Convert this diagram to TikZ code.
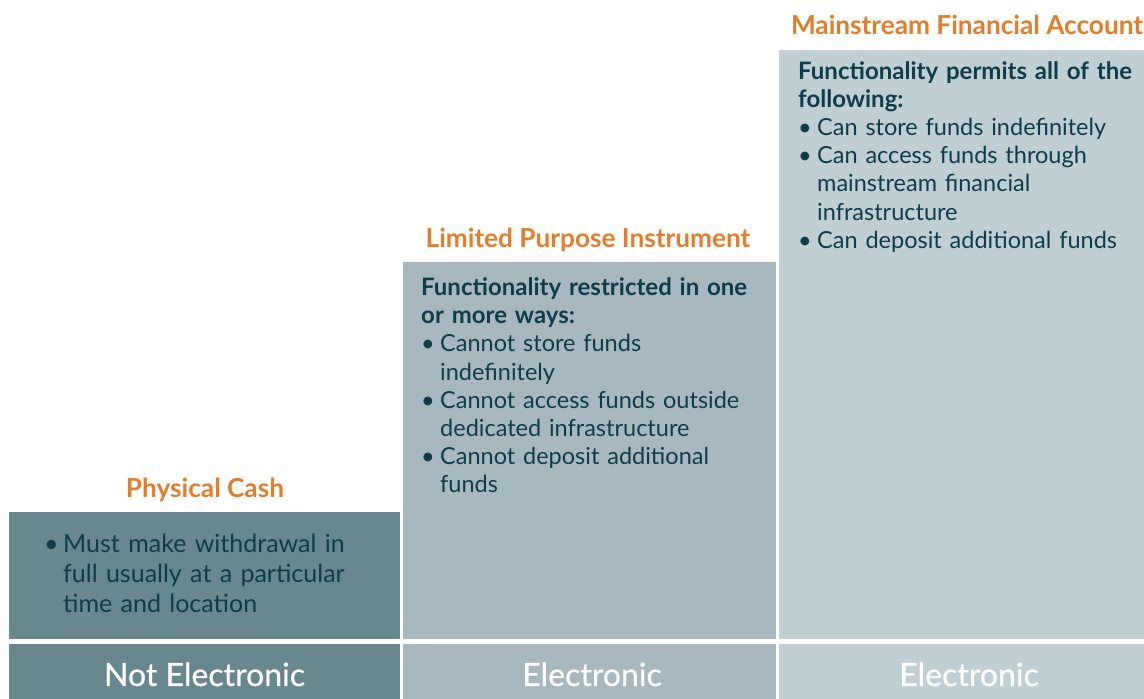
\documentclass[tikz,border=0pt]{standalone}
\usepackage{fontspec}
\setmainfont{Lato}
\newfontface\labelfont{Lato}[FakeBold=0.6]
\usepackage{xcolor}
\usetikzlibrary{positioning}

\definecolor{cashfill}{HTML}{67888F}
\definecolor{lpifill}{HTML}{A7B9BF}
\definecolor{mfafill}{HTML}{BFCFD4}
\definecolor{inkblue}{HTML}{0E3D4A}
\definecolor{headorange}{HTML}{E27D2A}

% one bullet line with hanging indent
\newcommand{\bulletline}[1]{\par\noindent\hangindent=19pt\hangafter=1\makebox[19pt][l]{\textbullet}#1}
% bold lead-in of a panel
\newcommand{\subhead}[1]{{\fontsize{24}{28.2}\selectfont\bfseries #1}}

\tikzset{
    heading/.style={
        font=\fontsize{26.2}{30}\selectfont\bfseries,
        text=headorange,
        inner sep=0pt,
        anchor=base
    },
    baselabel/.style={
        font=\fontsize{32}{36}\selectfont\labelfont,
        text=white,
        inner sep=0pt,
        anchor=base
    },
    bodytext/.style={
        font=\fontsize{23.5}{28.2}\selectfont,
        text=inkblue,
        inner sep=0pt,
        anchor=north west,
        align=left,
        text width=345pt
    }
}

\begin{document}
\begin{tikzpicture}[x=1pt,y=1pt]
\useasboundingbox (0,0) rectangle (1144,699);

% column panels
\fill[cashfill] (9,60) rectangle (400,187);
\fill[cashfill] (9,0) rectangle (400,55);
\fill[lpifill] (403,60) rectangle (776,437);
\fill[lpifill] (403,0) rectangle (776,55);
\fill[mfafill] (779,60) rectangle (1144,649);
\fill[mfafill] (779,0) rectangle (1144,55);

% headings
\node[heading] (cashhead) at (205,201) {Physical Cash};
\node[heading] (lpihead) at (588,451) {Limited Purpose Instrument};
\node[heading] (mfahead) at (967,664) {Mainstream Financial Account};

% bottom labels
\node[baselabel] (cashbase) at (204.5,13) {Not Electronic};
\node[baselabel] (lpibase) at (592,13) {Electronic};
\node[baselabel] (mfabase) at (969,13) {Electronic};

% panel texts (closing \par keeps the hanging indent of the last item)
\node[bodytext, font=\fontsize{25}{30}\selectfont] (cashtext) at (44,177) {%
\bulletline{Must make withdrawal in\newline full usually at a particular\newline time and location}\par};

\node[bodytext] (lpitext) at (421,421.5) {%
\subhead{Functionality restricted in one\newline or more ways:}
\bulletline{Cannot store funds\newline indefinitely}
\bulletline{Cannot access funds outside\newline dedicated infrastructure}
\bulletline{Cannot deposit additional\newline funds}\par};

\node[bodytext] (mfatext) at (798,638) {%
\subhead{Functionality permits all of the\newline following:}
\bulletline{Can store funds indefinitely}
\bulletline{Can access funds through\newline mainstream financial\newline infrastructure}
\bulletline{Can deposit additional funds}\par};

\end{tikzpicture}
\end{document}
